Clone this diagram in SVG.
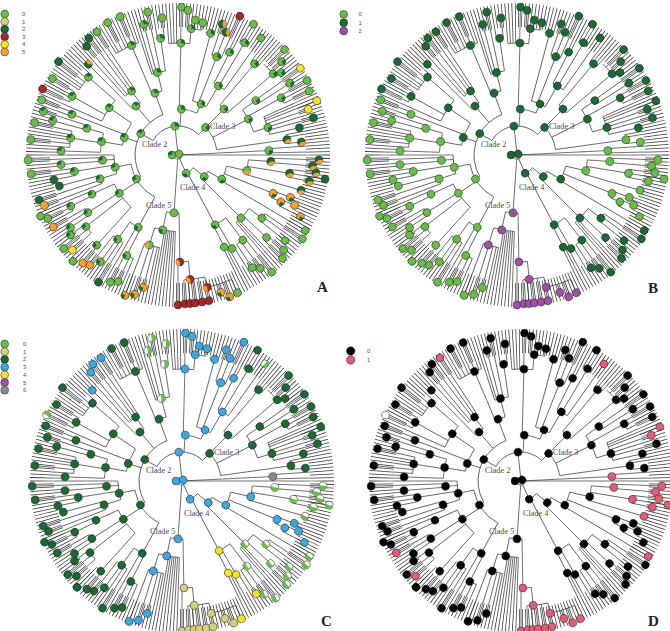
<svg xmlns="http://www.w3.org/2000/svg" xmlns:xlink="http://www.w3.org/1999/xlink" width="670" height="631" viewBox="0 0 670 631">
<style>
.n circle{r:3.9px;stroke:#1a1a1a;stroke-width:.5}
.w circle{r:1.95px;fill:none;stroke-width:3.9}
.k1{fill:var(--k1)}.k2{fill:var(--k2)}.k3{fill:var(--k3)}.k4{fill:var(--k4)}.k5{fill:var(--k5)}.k6{fill:var(--k6)}.k7{fill:var(--k7)}.k8{fill:var(--k8)}.k9{fill:var(--k9)}.k10{fill:var(--k10)}.k11{fill:var(--k11)}.k12{fill:var(--k12)}.k14{fill:var(--k14)}.k15{fill:var(--k15)}.k16{fill:var(--k16)}.k17{fill:var(--k17)}.k18{fill:var(--k18)}.k19{fill:var(--k19)}.k21{fill:var(--k21)}.k22{fill:var(--k22)}.k24{fill:var(--k24)}.k27{fill:var(--k27)}.k29{fill:var(--k29)}.k30{fill:var(--k30)}.k32{fill:var(--k32)}
.w1{stroke:var(--w1);stroke-dasharray:3.1 20}.w2{stroke:var(--w2);stroke-dasharray:4.3 20}.w3{stroke:var(--w3);stroke-dasharray:6.13 20}
#A{--k1:#68bd46;--k2:#68bd46;--k3:#68bd46;--k4:#68bd46;--k5:#1a6a33;--k6:#68bd46;--k7:#1a6a33;--k8:#1a6a33;--k9:#a3272b;--k10:#f7a12c;--k11:#f4e424;--k12:#f7a12c;--k14:#f7a12c;--k15:#68bd46;--k16:#a3272b;--k17:#f7a12c;--k18:#68bd46;--k19:#1a6a33;--k21:#68bd46;--k22:#68bd46;--k24:#68bd46;--k27:#a3272b;--k29:#f4e424;--k30:#f4e424;--k32:#68bd46;--w1:#1a6a33;--w2:#f7a12c;--w3:none}
#B{--k1:#1a6a33;--k2:#68bd46;--k3:#1a6a33;--k4:#1a6a33;--k5:#1a6a33;--k6:#1a6a33;--k7:#68bd46;--k8:#1a6a33;--k9:#1a6a33;--k10:#68bd46;--k11:#68bd46;--k12:#68bd46;--k14:#68bd46;--k15:#a04fa6;--k16:#a04fa6;--k17:#a04fa6;--k18:#a04fa6;--k19:#68bd46;--k21:#68bd46;--k22:#1a6a33;--k24:#1a6a33;--k27:#1a6a33;--k29:#1a6a33;--k30:#1a6a33;--k32:#68bd46;--w1:none;--w2:none;--w3:none}
#C{--k1:#3ba9e1;--k2:#1a6a33;--k3:#1a6a33;--k4:#fff;--k5:#3ba9e1;--k6:#3ba9e1;--k7:#1a6a33;--k8:#1a6a33;--k9:#fff;--k10:#1a6a33;--k11:#1a6a33;--k12:#1a6a33;--k14:#3ba9e1;--k15:#3ba9e1;--k16:#d6d07e;--k17:#d6d07e;--k18:#f4e424;--k19:#fff;--k21:#3ba9e1;--k22:#fff;--k24:#f4e424;--k27:#3ba9e1;--k29:#1a6a33;--k30:#1a6a33;--k32:#8a8a8a;--w1:none;--w2:none;--w3:#68bd46}
#D{--k1:#000;--k2:#000;--k3:#000;--k4:#000;--k5:#000;--k6:#e15c76;--k7:#000;--k8:#000;--k9:#fff;--k10:#e15c76;--k11:#e15c76;--k12:#000;--k14:#000;--k15:#000;--k16:#e15c76;--k17:#e15c76;--k18:#e15c76;--k19:#e15c76;--k21:#000;--k22:#e15c76;--k24:#000;--k27:#000;--k29:#000;--k30:#e15c76;--k32:#e15c76;--w1:none;--w2:none;--w3:none}
.cl{font-family:"Liberation Serif","Times New Roman",serif;font-size:8.2px;fill:#4a4a4a;stroke:none}
.lg{font-family:"Liberation Sans",Arial,sans-serif;font-size:6px;fill:#555}
.pl{font-family:"Liberation Serif","Times New Roman",serif;font-size:15px;font-weight:bold;fill:#222}
.lc circle{stroke:#222;stroke-width:.5}
</style>
<defs>
<g id="T" fill="none" stroke="#383838" stroke-width=".7">
<circle r="140" stroke-width="24" pathLength="270" stroke-dasharray=".23 .77" transform="rotate(-.15)"/>
<circle r="4" pathLength="360" stroke-dasharray="266.8 400" transform="rotate(357.2)"/>
<circle r="20" pathLength="360" stroke-dasharray="26.5 400" transform="rotate(39.5)"/>
<circle r="34" pathLength="360" stroke-dasharray="16.1 400" transform="rotate(28.9)"/>
<circle r="50" pathLength="360" stroke-dasharray="17.8 400" transform="rotate(12.9)"/>
<circle r="70.5" pathLength="360" stroke-dasharray="12 400" transform="rotate(4)"/>
<circle r="93" pathLength="360" stroke-dasharray="2.7 400" transform="rotate(2)"/>
<circle r="113" pathLength="360" stroke-dasharray="4 400" transform="rotate(7.33)"/>
<circle r="102.5" pathLength="360" stroke-dasharray="3.83 400" transform="rotate(20.67)"/>
<circle r="113" pathLength="360" stroke-dasharray="3.33 400" transform="rotate(23.33)"/>
<circle r="89" pathLength="360" stroke-dasharray="12.33 400" transform="rotate(37)"/>
<circle r="105" pathLength="360" stroke-dasharray="4.67 400" transform="rotate(34)"/>
<circle r="121" pathLength="360" stroke-dasharray="2.67 400" transform="rotate(42)"/>
<circle r="79" pathLength="360" stroke-dasharray="10.63 400" transform="rotate(52.7)"/>
<circle r="107" pathLength="360" stroke-dasharray="5.33 400" transform="rotate(51.33)"/>
<circle r="108" pathLength="360" stroke-dasharray="2.67 400" transform="rotate(58.67)"/>
<circle r="103" pathLength="360" stroke-dasharray="1.33 400" transform="rotate(62.67)"/>
<circle r="120" pathLength="360" stroke-dasharray="1.33 400" transform="rotate(20)"/>
<circle r="58" pathLength="360" stroke-dasharray="12.5 400" transform="rotate(89)"/>
<circle r="107" pathLength="360" stroke-dasharray="5.6 400" transform="rotate(84.4)"/>
<circle r="125" pathLength="360" stroke-dasharray="9.73 400" transform="rotate(77.6)"/>
<circle r="135.5" pathLength="360" stroke-dasharray="11.33 400" transform="rotate(66.67)"/>
<circle r="76.5" pathLength="360" stroke-dasharray="15.7 400" transform="rotate(92)"/>
<circle r="94.5" pathLength="360" stroke-dasharray="9.33 400" transform="rotate(101.33)"/>
<circle r="29" pathLength="360" stroke-dasharray="105 400" transform="rotate(210)"/>
<circle r="43" pathLength="360" stroke-dasharray="99.6 400" transform="rotate(150)"/>
<circle r="48" pathLength="360" stroke-dasharray="50.2 400" transform="rotate(118.8)"/>
<circle r="82.5" pathLength="360" stroke-dasharray="8.6 400" transform="rotate(117)"/>
<circle r="112.8" pathLength="360" stroke-dasharray="4.67 400" transform="rotate(113.33)"/>
<circle r="103.6" pathLength="360" stroke-dasharray="6.67 400" transform="rotate(122)"/>
<circle r="70" pathLength="360" stroke-dasharray="23.5 400" transform="rotate(132)"/>
<circle r="121.4" pathLength="360" stroke-dasharray="3.33 400" transform="rotate(131.33)"/>
<circle r="116.6" pathLength="360" stroke-dasharray="5.33 400" transform="rotate(138)"/>
<circle r="107" pathLength="360" stroke-dasharray="4 400" transform="rotate(146)"/>
<circle r="94.5" pathLength="360" stroke-dasharray="2.83 400" transform="rotate(154.5)"/>
<circle r="118.8" pathLength="360" stroke-dasharray="4 400" transform="rotate(152)"/>
<circle r="64" pathLength="360" stroke-dasharray="17 400" transform="rotate(163)"/>
<circle r="81.5" pathLength="360" stroke-dasharray="6 400" transform="rotate(159.33)"/>
<circle r="105" pathLength="360" stroke-dasharray="4 400" transform="rotate(168.67)"/>
<circle r="75.7" pathLength="360" stroke-dasharray="2.67 400" transform="rotate(175.33)"/>
<circle r="56.5" pathLength="360" stroke-dasharray="24.5 400" transform="rotate(190)"/>
<circle r="77.6" pathLength="360" stroke-dasharray="14.33 400" transform="rotate(182)"/>
<circle r="108.6" pathLength="360" stroke-dasharray="8.67 400" transform="rotate(184)"/>
<circle r="95" pathLength="360" stroke-dasharray="2.67 400" transform="rotate(195.33)"/>
<circle r="113.6" pathLength="360" stroke-dasharray="2 400" transform="rotate(200)"/>
<circle r="83.4" pathLength="360" stroke-dasharray="17 400" transform="rotate(204)"/>
<circle r="121" pathLength="360" stroke-dasharray="5.33 400" transform="rotate(206)"/>
<circle r="118.6" pathLength="360" stroke-dasharray="9.33 400" transform="rotate(213.33)"/>
<circle r="64.5" pathLength="360" stroke-dasharray="8.67 400" transform="rotate(225.33)"/>
<circle r="79" pathLength="360" stroke-dasharray="8.67 400" transform="rotate(228)"/>
<circle r="66" pathLength="360" stroke-dasharray="9 400" transform="rotate(247)"/>
<circle r="119" pathLength="360" stroke-dasharray="12 400" transform="rotate(238.67)"/>
<circle r="85" pathLength="360" stroke-dasharray="9.5 400" transform="rotate(252)"/>
<circle r="118" pathLength="360" stroke-dasharray="3.33 400" transform="rotate(260)"/>
<circle r="46" pathLength="360" stroke-dasharray="22.8 400" transform="rotate(271.5)"/>
<circle r="112" pathLength="360" stroke-dasharray="10.67 400" transform="rotate(265.33)"/>
<circle r="127" pathLength="360" stroke-dasharray="6.67 400" transform="rotate(274)"/>
<circle r="56" pathLength="360" stroke-dasharray="15.3 400" transform="rotate(285)"/>
<circle r="126" pathLength="360" stroke-dasharray="4 400" transform="rotate(282.67)"/>
<circle r="105.6" pathLength="360" stroke-dasharray="5.33 400" transform="rotate(288.67)"/>
<circle r="80" pathLength="360" stroke-dasharray="8.67 400" transform="rotate(296.67)"/>
<circle r="130.5" pathLength="360" stroke-dasharray="4 400" transform="rotate(298.67)"/>
<circle r="39" pathLength="360" stroke-dasharray="37 400" transform="rotate(315)"/>
<circle r="65" pathLength="360" stroke-dasharray="9.5 400" transform="rotate(310)"/>
<circle r="119" pathLength="360" stroke-dasharray="4 400" transform="rotate(308)"/>
<circle r="125" pathLength="360" stroke-dasharray="8 400" transform="rotate(313.33)"/>
<circle r="79" pathLength="360" stroke-dasharray="18 400" transform="rotate(325)"/>
<circle r="95" pathLength="360" stroke-dasharray="2.67 400" transform="rotate(324.67)"/>
<circle r="118" pathLength="360" stroke-dasharray="4 400" transform="rotate(330)"/>
<circle r="94" pathLength="360" stroke-dasharray="11.33 400" transform="rotate(336)"/>
<circle r="110" pathLength="360" stroke-dasharray="4.67 400" transform="rotate(349.33)"/>
<circle r="91" pathLength="360" stroke-dasharray="2.67 400" transform="rotate(356)"/>
<path d="M4 0H91" transform="rotate(357.2)"/>
<path d="M4 0H20" transform="rotate(66)"/>
<path d="M4 0H58" transform="rotate(94)"/>
<path d="M4 0H29" transform="rotate(264)"/>
<path d="M4 0H128"/>
<path d="M20 0H34" transform="rotate(39.5)"/>
<path d="M20 0H79" transform="rotate(62)"/>
<path d="M34 0H50" transform="rotate(28.9)"/>
<path d="M34 0H89" transform="rotate(45)"/>
<path d="M50 0H70.5" transform="rotate(12.9)"/>
<path d="M50 0H102.5" transform="rotate(22)"/>
<path d="M50 0H148" transform="rotate(30.67)"/>
<path d="M70.5 0H93" transform="rotate(4)"/>
<path d="M70.5 0H113" transform="rotate(9.33)"/>
<path d="M70.5 0H128" transform="rotate(16)"/>
<path d="M93 0H141" transform="rotate(2)"/>
<path d="M93 0H135" transform="rotate(4.67)"/>
<path d="M113 0H139" transform="rotate(7.33)"/>
<path d="M113 0H149" transform="rotate(9.33)"/>
<path d="M113 0H134" transform="rotate(11.33)"/>
<path d="M102.5 0H120" transform="rotate(20.67)"/>
<path d="M102.5 0H113" transform="rotate(24.5)"/>
<path d="M113 0H127" transform="rotate(23.33)"/>
<path d="M113 0H137" transform="rotate(26.67)"/>
<path d="M89 0H105" transform="rotate(37)"/>
<path d="M89 0H121" transform="rotate(43)"/>
<path d="M89 0H128" transform="rotate(46.67)"/>
<path d="M89 0H128" transform="rotate(48)"/>
<path d="M89 0H128" transform="rotate(49.33)"/>
<path d="M105 0H150" transform="rotate(34)"/>
<path d="M105 0H137" transform="rotate(38.67)"/>
<path d="M105 0H128" transform="rotate(36)"/>
<path d="M121 0H142" transform="rotate(42)"/>
<path d="M121 0H147" transform="rotate(44.67)"/>
<path d="M79 0H107" transform="rotate(52.7)"/>
<path d="M79 0H108" transform="rotate(60)"/>
<path d="M79 0H103" transform="rotate(63.33)"/>
<path d="M107 0H150" transform="rotate(51.33)"/>
<path d="M107 0H140" transform="rotate(54)"/>
<path d="M107 0H135" transform="rotate(56.67)"/>
<path d="M108 0H128" transform="rotate(58.67)"/>
<path d="M108 0H128" transform="rotate(61.33)"/>
<path d="M103 0H128" transform="rotate(62.67)"/>
<path d="M103 0H128" transform="rotate(64)"/>
<path d="M120 0H128" transform="rotate(20)"/>
<path d="M120 0H128" transform="rotate(21.33)"/>
<path d="M58 0H107" transform="rotate(89)"/>
<path d="M58 0H76.5" transform="rotate(101.5)"/>
<path d="M107 0H125" transform="rotate(84.4)"/>
<path d="M107 0H150" transform="rotate(90)"/>
<path d="M125 0H135.5" transform="rotate(77.6)"/>
<path d="M125 0H149" transform="rotate(80.67)"/>
<path d="M125 0H149" transform="rotate(83.33)"/>
<path d="M125 0H149" transform="rotate(85.33)"/>
<path d="M125 0H149" transform="rotate(87.33)"/>
<path d="M135.5 0H150" transform="rotate(66.67)"/>
<path d="M135.5 0H151" transform="rotate(70)"/>
<path d="M135.5 0H144" transform="rotate(72.67)"/>
<path d="M135.5 0H149" transform="rotate(78)"/>
<path d="M76.5 0H94.5" transform="rotate(107.7)"/>
<path d="M76.5 0H128" transform="rotate(92)"/>
<path d="M76.5 0H128" transform="rotate(93.33)"/>
<path d="M76.5 0H128" transform="rotate(94.67)"/>
<path d="M76.5 0H128" transform="rotate(96)"/>
<path d="M76.5 0H128" transform="rotate(97.33)"/>
<path d="M76.5 0H128" transform="rotate(98.67)"/>
<path d="M76.5 0H128" transform="rotate(100)"/>
<path d="M94.5 0H137" transform="rotate(104.67)"/>
<path d="M94.5 0H146" transform="rotate(107.33)"/>
<path d="M94.5 0H150" transform="rotate(110.67)"/>
<path d="M94.5 0H128" transform="rotate(101.33)"/>
<path d="M94.5 0H128" transform="rotate(102.67)"/>
<path d="M29 0H43" transform="rotate(210)"/>
<path d="M29 0H46" transform="rotate(274)"/>
<path d="M29 0H39" transform="rotate(315)"/>
<path d="M43 0H48" transform="rotate(150)"/>
<path d="M43 0H56.5" transform="rotate(198)"/>
<path d="M43 0H64.5" transform="rotate(229.4)"/>
<path d="M43 0H66" transform="rotate(249.6)"/>
<path d="M48 0H82.5" transform="rotate(118.8)"/>
<path d="M48 0H70" transform="rotate(146.9)"/>
<path d="M48 0H64" transform="rotate(169)"/>
<path d="M82.5 0H112.8" transform="rotate(117)"/>
<path d="M82.5 0H103.6" transform="rotate(125.6)"/>
<path d="M82.5 0H128" transform="rotate(120)"/>
<path d="M112.8 0H140" transform="rotate(115.33)"/>
<path d="M112.8 0H144" transform="rotate(118)"/>
<path d="M112.8 0H128" transform="rotate(113.33)"/>
<path d="M103.6 0H150" transform="rotate(122)"/>
<path d="M103.6 0H132" transform="rotate(126)"/>
<path d="M103.6 0H141" transform="rotate(128.67)"/>
<path d="M103.6 0H128" transform="rotate(124)"/>
<path d="M70 0H121.4" transform="rotate(132)"/>
<path d="M70 0H116.6" transform="rotate(142.1)"/>
<path d="M70 0H107" transform="rotate(147.4)"/>
<path d="M70 0H94.5" transform="rotate(155.5)"/>
<path d="M121.4 0H144" transform="rotate(131.33)"/>
<path d="M121.4 0H149.4" transform="rotate(134.67)"/>
<path d="M116.6 0H142" transform="rotate(138)"/>
<path d="M116.6 0H147.6" transform="rotate(140.67)"/>
<path d="M116.6 0H134" transform="rotate(143.33)"/>
<path d="M107 0H129.7" transform="rotate(146)"/>
<path d="M107 0H144" transform="rotate(150)"/>
<path d="M107 0H128" transform="rotate(148)"/>
<path d="M94.5 0H118.8" transform="rotate(154.5)"/>
<path d="M94.5 0H128" transform="rotate(157.33)"/>
<path d="M118.8 0H144.8" transform="rotate(154)"/>
<path d="M118.8 0H150.5" transform="rotate(156)"/>
<path d="M118.8 0H128" transform="rotate(152)"/>
<path d="M64 0H81.5" transform="rotate(163)"/>
<path d="M64 0H105" transform="rotate(171)"/>
<path d="M64 0H75.7" transform="rotate(176)"/>
<path d="M64 0H128" transform="rotate(180)"/>
<path d="M81.5 0H142.7" transform="rotate(159.33)"/>
<path d="M81.5 0H146" transform="rotate(162)"/>
<path d="M81.5 0H122.7" transform="rotate(165.33)"/>
<path d="M105 0H126.5" transform="rotate(168.67)"/>
<path d="M105 0H148" transform="rotate(172.67)"/>
<path d="M105 0H128" transform="rotate(170.67)"/>
<path d="M75.7 0H117.4" transform="rotate(175.33)"/>
<path d="M75.7 0H150" transform="rotate(178)"/>
<path d="M117.4 0H128" transform="rotate(174.67)"/>
<path d="M117.4 0H128" transform="rotate(176)"/>
<path d="M56.5 0H77.6" transform="rotate(190)"/>
<path d="M56.5 0H113.6" transform="rotate(201)"/>
<path d="M56.5 0H83.4" transform="rotate(214.5)"/>
<path d="M77.6 0H117" transform="rotate(182)"/>
<path d="M77.6 0H108.6" transform="rotate(189)"/>
<path d="M77.6 0H95" transform="rotate(196.33)"/>
<path d="M117 0H128" transform="rotate(181.33)"/>
<path d="M117 0H128" transform="rotate(182.67)"/>
<path d="M108.6 0H148" transform="rotate(186)"/>
<path d="M108.6 0H147" transform="rotate(192.67)"/>
<path d="M108.6 0H128" transform="rotate(184)"/>
<path d="M108.6 0H128" transform="rotate(188)"/>
<path d="M108.6 0H128" transform="rotate(189.33)"/>
<path d="M108.6 0H128" transform="rotate(190.67)"/>
<path d="M95 0H130" transform="rotate(195.33)"/>
<path d="M95 0H141.6" transform="rotate(198)"/>
<path d="M113.6 0H147" transform="rotate(202)"/>
<path d="M113.6 0H128" transform="rotate(200)"/>
<path d="M83.4 0H121" transform="rotate(209)"/>
<path d="M83.4 0H118.6" transform="rotate(221)"/>
<path d="M83.4 0H128" transform="rotate(204)"/>
<path d="M121 0H150.7" transform="rotate(206)"/>
<path d="M121 0H147" transform="rotate(211.33)"/>
<path d="M121 0H128" transform="rotate(208)"/>
<path d="M121 0H128" transform="rotate(209.33)"/>
<path d="M118.6 0H151.6" transform="rotate(218)"/>
<path d="M118.6 0H128" transform="rotate(213.33)"/>
<path d="M118.6 0H128" transform="rotate(214.67)"/>
<path d="M118.6 0H128" transform="rotate(216)"/>
<path d="M118.6 0H128" transform="rotate(220)"/>
<path d="M118.6 0H128" transform="rotate(222.67)"/>
<path d="M64.5 0H127.5" transform="rotate(225.33)"/>
<path d="M64.5 0H79" transform="rotate(234)"/>
<path d="M79 0H142" transform="rotate(230)"/>
<path d="M79 0H147" transform="rotate(232.67)"/>
<path d="M79 0H147.5" transform="rotate(236.67)"/>
<path d="M79 0H128" transform="rotate(228)"/>
<path d="M79 0H128" transform="rotate(234.67)"/>
<path d="M66 0H119" transform="rotate(247)"/>
<path d="M66 0H85" transform="rotate(256)"/>
<path d="M119 0H150" transform="rotate(242)"/>
<path d="M119 0H150" transform="rotate(247.33)"/>
<path d="M119 0H128" transform="rotate(238.67)"/>
<path d="M119 0H128" transform="rotate(240)"/>
<path d="M119 0H128" transform="rotate(244)"/>
<path d="M119 0H128" transform="rotate(245.33)"/>
<path d="M119 0H128" transform="rotate(249.33)"/>
<path d="M119 0H128" transform="rotate(250.67)"/>
<path d="M85 0H135" transform="rotate(255.33)"/>
<path d="M85 0H146" transform="rotate(258)"/>
<path d="M85 0H118" transform="rotate(261.5)"/>
<path d="M85 0H128" transform="rotate(252)"/>
<path d="M85 0H128" transform="rotate(253.33)"/>
<path d="M118 0H138" transform="rotate(263.33)"/>
<path d="M118 0H128" transform="rotate(260)"/>
<path d="M46 0H112" transform="rotate(271.5)"/>
<path d="M46 0H56" transform="rotate(294.3)"/>
<path d="M112 0H148" transform="rotate(271.33)"/>
<path d="M112 0H127" transform="rotate(276)"/>
<path d="M112 0H128" transform="rotate(265.33)"/>
<path d="M112 0H128" transform="rotate(266.67)"/>
<path d="M112 0H128" transform="rotate(268)"/>
<path d="M112 0H128" transform="rotate(269.33)"/>
<path d="M127 0H145" transform="rotate(274)"/>
<path d="M127 0H136" transform="rotate(277.33)"/>
<path d="M127 0H134.6" transform="rotate(280.67)"/>
<path d="M56 0H126" transform="rotate(285)"/>
<path d="M56 0H105.6" transform="rotate(291.5)"/>
<path d="M56 0H80" transform="rotate(300.3)"/>
<path d="M105.6 0H138.3" transform="rotate(288.67)"/>
<path d="M105.6 0H131.8" transform="rotate(291.33)"/>
<path d="M105.6 0H152" transform="rotate(294)"/>
<path d="M80 0H115" transform="rotate(296.67)"/>
<path d="M80 0H130.5" transform="rotate(300.67)"/>
<path d="M80 0H143.5" transform="rotate(305.33)"/>
<path d="M115 0H128" transform="rotate(296)"/>
<path d="M115 0H128" transform="rotate(297.33)"/>
<path d="M39 0H65" transform="rotate(315)"/>
<path d="M39 0H79" transform="rotate(333)"/>
<path d="M39 0H110" transform="rotate(352)"/>
<path d="M65 0H119" transform="rotate(310)"/>
<path d="M65 0H125" transform="rotate(319.5)"/>
<path d="M119 0H128" transform="rotate(308)"/>
<path d="M119 0H128" transform="rotate(309.33)"/>
<path d="M119 0H128" transform="rotate(310.67)"/>
<path d="M119 0H128" transform="rotate(312)"/>
<path d="M125 0H150" transform="rotate(315.33)"/>
<path d="M125 0H139.6" transform="rotate(318)"/>
<path d="M125 0H132" transform="rotate(321.33)"/>
<path d="M79 0H95" transform="rotate(325)"/>
<path d="M79 0H118" transform="rotate(331)"/>
<path d="M79 0H94" transform="rotate(343)"/>
<path d="M95 0H150" transform="rotate(324.67)"/>
<path d="M95 0H133" transform="rotate(327.33)"/>
<path d="M118 0H149" transform="rotate(330)"/>
<path d="M118 0H146" transform="rotate(334)"/>
<path d="M118 0H128" transform="rotate(332)"/>
<path d="M94 0H149" transform="rotate(338.67)"/>
<path d="M94 0H138" transform="rotate(340.67)"/>
<path d="M94 0H140.5" transform="rotate(344.67)"/>
<path d="M94 0H124.4" transform="rotate(347.33)"/>
<path d="M94 0H128" transform="rotate(336)"/>
<path d="M94 0H128" transform="rotate(337.33)"/>
<path d="M94 0H128" transform="rotate(342.67)"/>
<path d="M110 0H124" transform="rotate(354)"/>
<path d="M110 0H128" transform="rotate(349.33)"/>
<path d="M110 0H128" transform="rotate(350.67)"/>
<path d="M91 0H128" transform="rotate(356)"/>
<path d="M91 0H128" transform="rotate(358.67)"/>
<text class="cl" x="-36" y="-8">Clade 2</text>
<text class="cl" x="32" y="-26">Clade 3</text>
<text class="cl" x="2" y="35">Clade 4</text>
<text class="cl" x="-32" y="53">Clade 5</text>
</g>
<g id="N" class="n">
<circle class="k1" cx="6" transform="rotate(180)"/>
<circle class="k1" cx="1.5" transform="rotate(315)"/>
<circle class="k1" cx="29" transform="rotate(264)"/>
<circle class="k32" cx="91" transform="rotate(357.2)"/>
<circle class="k1" cx="20" transform="rotate(66)"/>
<circle class="k1" cx="34" transform="rotate(39.5)"/>
<circle class="k1" cx="50" transform="rotate(28.9)"/>
<circle class="k21" cx="70.5" transform="rotate(12.9)"/>
<circle class="k19" cx="93" transform="rotate(4)"/>
<circle class="k19" cx="141" transform="rotate(2)"/>
<circle class="k19" cx="135" transform="rotate(4.67)"/>
<circle class="k19" cx="139" transform="rotate(7.33)"/>
<circle class="k19" cx="149" transform="rotate(9.33)"/>
<circle class="k19" cx="113" transform="rotate(9.33)"/>
<circle class="k19" cx="134" transform="rotate(11.33)"/>
<circle class="k19" cx="128" transform="rotate(16)"/>
<circle class="k14" cx="102.5" transform="rotate(22)"/>
<circle class="k14" cx="120" transform="rotate(20.67)"/>
<circle class="k14" cx="113" transform="rotate(24.5)"/>
<circle class="k14" cx="127" transform="rotate(23.33)"/>
<circle class="k14" cx="137" transform="rotate(26.67)"/>
<circle class="k22" cx="148" transform="rotate(30.67)"/>
<circle class="k4" cx="89" transform="rotate(45)"/>
<circle class="k4" cx="105" transform="rotate(37)"/>
<circle class="k4" cx="150" transform="rotate(34)"/>
<circle class="k4" cx="137" transform="rotate(38.67)"/>
<circle class="k4" cx="121" transform="rotate(43)"/>
<circle class="k4" cx="142" transform="rotate(42)"/>
<circle class="k4" cx="147" transform="rotate(44.67)"/>
<circle class="k24" cx="79" transform="rotate(62)"/>
<circle class="k4" cx="107" transform="rotate(52.7)"/>
<circle class="k4" cx="150" transform="rotate(51.33)"/>
<circle class="k4" cx="140" transform="rotate(54)"/>
<circle class="k24" cx="135" transform="rotate(56.67)"/>
<circle class="k24" cx="108" transform="rotate(60)"/>
<circle class="k24" cx="103" transform="rotate(63.33)"/>
<circle class="k15" cx="58" transform="rotate(94)"/>
<circle class="k16" cx="107" transform="rotate(89)"/>
<circle class="k16" cx="150" transform="rotate(90)"/>
<circle class="k16" cx="125" transform="rotate(84.4)"/>
<circle class="k16" cx="149" transform="rotate(87.33)"/>
<circle class="k16" cx="149" transform="rotate(85.33)"/>
<circle class="k16" cx="149" transform="rotate(83.33)"/>
<circle class="k16" cx="149" transform="rotate(80.67)"/>
<circle class="k16" cx="135.5" transform="rotate(77.6)"/>
<circle class="k16" cx="149" transform="rotate(78)"/>
<circle class="k17" cx="144" transform="rotate(72.67)"/>
<circle class="k17" cx="151" transform="rotate(70)"/>
<circle class="k18" cx="150" transform="rotate(66.67)"/>
<circle class="k15" cx="76.5" transform="rotate(101.5)"/>
<circle class="k15" cx="94.5" transform="rotate(107.7)"/>
<circle class="k14" cx="137" transform="rotate(104.67)"/>
<circle class="k14" cx="146" transform="rotate(107.33)"/>
<circle class="k14" cx="150" transform="rotate(110.67)"/>
<circle class="k3" cx="43" transform="rotate(210)"/>
<circle class="k2" cx="48" transform="rotate(150)"/>
<circle class="k2" cx="82.5" transform="rotate(118.8)"/>
<circle class="k2" cx="112.8" transform="rotate(117)"/>
<circle class="k2" cx="140" transform="rotate(115.33)"/>
<circle class="k2" cx="144" transform="rotate(118)"/>
<circle class="k2" cx="103.6" transform="rotate(125.6)"/>
<circle class="k7" cx="150" transform="rotate(122)"/>
<circle class="k2" cx="132" transform="rotate(126)"/>
<circle class="k12" cx="141" transform="rotate(128.67)"/>
<circle class="k12" cx="144" transform="rotate(131.33)"/>
<circle class="k2" cx="121.4" transform="rotate(132)"/>
<circle class="k2" cx="149.4" transform="rotate(134.67)"/>
<circle class="k2" cx="70" transform="rotate(146.9)"/>
<circle class="k2" cx="116.6" transform="rotate(142.1)"/>
<circle class="k11" cx="142" transform="rotate(138)"/>
<circle class="k2" cx="147.6" transform="rotate(140.67)"/>
<circle class="k2" cx="134" transform="rotate(143.33)"/>
<circle class="k2" cx="107" transform="rotate(147.4)"/>
<circle class="k2" cx="129.7" transform="rotate(146)"/>
<circle class="k10" cx="144" transform="rotate(150)"/>
<circle class="k2" cx="94.5" transform="rotate(155.5)"/>
<circle class="k2" cx="118.8" transform="rotate(154.5)"/>
<circle class="k2" cx="144.8" transform="rotate(154)"/>
<circle class="k2" cx="150.5" transform="rotate(156)"/>
<circle class="k2" cx="64" transform="rotate(169)"/>
<circle class="k2" cx="81.5" transform="rotate(163)"/>
<circle class="k12" cx="142.7" transform="rotate(159.33)"/>
<circle class="k7" cx="146" transform="rotate(162)"/>
<circle class="k7" cx="122.7" transform="rotate(165.33)"/>
<circle class="k2" cx="105" transform="rotate(171)"/>
<circle class="k7" cx="126.5" transform="rotate(168.67)"/>
<circle class="k2" cx="148" transform="rotate(172.67)"/>
<circle class="k2" cx="75.7" transform="rotate(176)"/>
<circle class="k2" cx="117.4" transform="rotate(175.33)"/>
<circle class="k2" cx="150" transform="rotate(178)"/>
<circle class="k3" cx="56.5" transform="rotate(198)"/>
<circle class="k2" cx="77.6" transform="rotate(190)"/>
<circle class="k2" cx="117" transform="rotate(182)"/>
<circle class="k2" cx="108.6" transform="rotate(189)"/>
<circle class="k2" cx="148" transform="rotate(186)"/>
<circle class="k2" cx="147" transform="rotate(192.67)"/>
<circle class="k2" cx="95" transform="rotate(196.33)"/>
<circle class="k2" cx="130" transform="rotate(195.33)"/>
<circle class="k2" cx="141.6" transform="rotate(198)"/>
<circle class="k2" cx="113.6" transform="rotate(201)"/>
<circle class="k2" cx="147" transform="rotate(202)"/>
<circle class="k3" cx="83.4" transform="rotate(214.5)"/>
<circle class="k3" cx="121" transform="rotate(209)"/>
<circle class="k9" cx="150.7" transform="rotate(206)"/>
<circle class="k3" cx="147" transform="rotate(211.33)"/>
<circle class="k3" cx="118.6" transform="rotate(221)"/>
<circle class="k8" cx="151.6" transform="rotate(218)"/>
<circle class="k3" cx="64.5" transform="rotate(229.4)"/>
<circle class="k5" cx="127.5" transform="rotate(225.33)"/>
<circle class="k3" cx="79" transform="rotate(234)"/>
<circle class="k5" cx="142" transform="rotate(230)"/>
<circle class="k5" cx="147" transform="rotate(232.67)"/>
<circle class="k6" cx="147.5" transform="rotate(236.67)"/>
<circle class="k3" cx="66" transform="rotate(249.6)"/>
<circle class="k3" cx="119" transform="rotate(247)"/>
<circle class="k3" cx="150" transform="rotate(242)"/>
<circle class="k3" cx="150" transform="rotate(247.33)"/>
<circle class="k4" cx="85" transform="rotate(256)"/>
<circle class="k4" cx="135" transform="rotate(255.33)"/>
<circle class="k4" cx="146" transform="rotate(258)"/>
<circle class="k4" cx="118" transform="rotate(261.5)"/>
<circle class="k4" cx="138" transform="rotate(263.33)"/>
<circle class="k1" cx="46" transform="rotate(274)"/>
<circle class="k1" cx="112" transform="rotate(271.5)"/>
<circle class="k1" cx="148" transform="rotate(271.33)"/>
<circle class="k1" cx="127" transform="rotate(276)"/>
<circle class="k1" cx="145" transform="rotate(274)"/>
<circle class="k1" cx="136" transform="rotate(277.33)"/>
<circle class="k1" cx="134.6" transform="rotate(280.67)"/>
<circle class="k1" cx="56" transform="rotate(294.3)"/>
<circle class="k1" cx="126" transform="rotate(285)"/>
<circle class="k1" cx="105.6" transform="rotate(291.5)"/>
<circle class="k5" cx="138.3" transform="rotate(288.67)"/>
<circle class="k5" cx="131.8" transform="rotate(291.33)"/>
<circle class="k27" cx="152" transform="rotate(294)"/>
<circle class="k1" cx="80" transform="rotate(300.3)"/>
<circle class="k1" cx="115" transform="rotate(296.67)"/>
<circle class="k3" cx="130.5" transform="rotate(300.67)"/>
<circle class="k3" cx="151" transform="rotate(300)"/>
<circle class="k22" cx="143.5" transform="rotate(305.33)"/>
<circle class="k3" cx="39" transform="rotate(315)"/>
<circle class="k3" cx="65" transform="rotate(315)"/>
<circle class="k3" cx="119" transform="rotate(310)"/>
<circle class="k3" cx="125" transform="rotate(319.5)"/>
<circle class="k3" cx="150" transform="rotate(315.33)"/>
<circle class="k3" cx="139.6" transform="rotate(318)"/>
<circle class="k3" cx="132" transform="rotate(321.33)"/>
<circle class="k3" cx="79" transform="rotate(333)"/>
<circle class="k3" cx="95" transform="rotate(325)"/>
<circle class="k29" cx="150" transform="rotate(324.67)"/>
<circle class="k3" cx="133" transform="rotate(327.33)"/>
<circle class="k3" cx="118" transform="rotate(331)"/>
<circle class="k3" cx="149" transform="rotate(330)"/>
<circle class="k3" cx="146" transform="rotate(334)"/>
<circle class="k3" cx="94" transform="rotate(343)"/>
<circle class="k30" cx="149" transform="rotate(338.67)"/>
<circle class="k30" cx="138" transform="rotate(340.67)"/>
<circle class="k8" cx="140.5" transform="rotate(344.67)"/>
<circle class="k8" cx="124.4" transform="rotate(347.33)"/>
<circle class="k7" cx="110" transform="rotate(352)"/>
<circle class="k7" cx="124" transform="rotate(354)"/>
</g>
<g id="W" class="w">
<circle class="w1" cx="6" transform="rotate(180)"/>
<circle class="w1" cx="29" transform="rotate(264)"/>
<circle class="w1" cx="20" transform="rotate(66)"/>
<circle class="w1" cx="34" transform="rotate(39.5)"/>
<circle class="w1" cx="50" transform="rotate(28.9)"/>
<circle class="w1" cx="79" transform="rotate(62)"/>
<circle class="w1" cx="43" transform="rotate(210)"/>
<circle class="w1" cx="48" transform="rotate(150)"/>
<circle class="w1" cx="82.5" transform="rotate(118.8)"/>
<circle class="w1" cx="112.8" transform="rotate(117)"/>
<circle class="w1" cx="103.6" transform="rotate(125.6)"/>
<circle class="w1" cx="132" transform="rotate(126)"/>
<circle class="w1" cx="121.4" transform="rotate(132)"/>
<circle class="w1" cx="70" transform="rotate(146.9)"/>
<circle class="w1" cx="116.6" transform="rotate(142.1)"/>
<circle class="w1" cx="134" transform="rotate(143.33)"/>
<circle class="w1" cx="107" transform="rotate(147.4)"/>
<circle class="w1" cx="129.7" transform="rotate(146)"/>
<circle class="w1" cx="94.5" transform="rotate(155.5)"/>
<circle class="w1" cx="118.8" transform="rotate(154.5)"/>
<circle class="w1" cx="64" transform="rotate(169)"/>
<circle class="w1" cx="81.5" transform="rotate(163)"/>
<circle class="w1" cx="105" transform="rotate(171)"/>
<circle class="w1" cx="75.7" transform="rotate(176)"/>
<circle class="w1" cx="117.4" transform="rotate(175.33)"/>
<circle class="w1" cx="56.5" transform="rotate(198)"/>
<circle class="w1" cx="77.6" transform="rotate(190)"/>
<circle class="w1" cx="117" transform="rotate(182)"/>
<circle class="w1" cx="108.6" transform="rotate(189)"/>
<circle class="w1" cx="95" transform="rotate(196.33)"/>
<circle class="w1" cx="130" transform="rotate(195.33)"/>
<circle class="w1" cx="141.6" transform="rotate(198)"/>
<circle class="w1" cx="113.6" transform="rotate(201)"/>
<circle class="w1" cx="83.4" transform="rotate(214.5)"/>
<circle class="w1" cx="121" transform="rotate(209)"/>
<circle class="w1" cx="118.6" transform="rotate(221)"/>
<circle class="w1" cx="64.5" transform="rotate(229.4)"/>
<circle class="w1" cx="79" transform="rotate(234)"/>
<circle class="w1" cx="66" transform="rotate(249.6)"/>
<circle class="w1" cx="119" transform="rotate(247)"/>
<circle class="w1" cx="46" transform="rotate(274)"/>
<circle class="w1" cx="112" transform="rotate(271.5)"/>
<circle class="w1" cx="127" transform="rotate(276)"/>
<circle class="w1" cx="56" transform="rotate(294.3)"/>
<circle class="w1" cx="126" transform="rotate(285)"/>
<circle class="w1" cx="105.6" transform="rotate(291.5)"/>
<circle class="w1" cx="80" transform="rotate(300.3)"/>
<circle class="w1" cx="115" transform="rotate(296.67)"/>
<circle class="w1" cx="130.5" transform="rotate(300.67)"/>
<circle class="w1" cx="39" transform="rotate(315)"/>
<circle class="w1" cx="65" transform="rotate(315)"/>
<circle class="w1" cx="119" transform="rotate(310)"/>
<circle class="w1" cx="125" transform="rotate(319.5)"/>
<circle class="w1" cx="139.6" transform="rotate(318)"/>
<circle class="w1" cx="132" transform="rotate(321.33)"/>
<circle class="w1" cx="79" transform="rotate(333)"/>
<circle class="w1" cx="95" transform="rotate(325)"/>
<circle class="w1" cx="133" transform="rotate(327.33)"/>
<circle class="w1" cx="118" transform="rotate(331)"/>
<circle class="w1" cx="94" transform="rotate(343)"/>
<circle class="w1" cx="91" transform="rotate(357.2)"/>
<circle class="w1" cx="76.5" transform="rotate(101.5)"/>
<circle class="w1" cx="102.5" transform="rotate(22)"/>
<circle class="w1" cx="120" transform="rotate(20.67)"/>
<circle class="w1" cx="113" transform="rotate(24.5)"/>
<circle class="w1" cx="137" transform="rotate(26.67)"/>
<circle class="w1" cx="137" transform="rotate(104.67)"/>
<circle class="w1" cx="146" transform="rotate(107.33)"/>
<circle class="w1" cx="150" transform="rotate(110.67)"/>
<circle class="w1" cx="144" transform="rotate(72.67)"/>
<circle class="w1" cx="151" transform="rotate(70)"/>
<circle class="w1" cx="85" transform="rotate(256)"/>
<circle class="w1" cx="135" transform="rotate(255.33)"/>
<circle class="w1" cx="118" transform="rotate(261.5)"/>
<circle class="w2" cx="70.5" transform="rotate(12.9)"/>
<circle class="w2" cx="93" transform="rotate(4)"/>
<circle class="w2" cx="141" transform="rotate(2)"/>
<circle class="w2" cx="135" transform="rotate(4.67)"/>
<circle class="w2" cx="139" transform="rotate(7.33)"/>
<circle class="w2" cx="113" transform="rotate(9.33)"/>
<circle class="w2" cx="134" transform="rotate(11.33)"/>
<circle class="w2" cx="128" transform="rotate(16)"/>
<circle class="w2" cx="127.5" transform="rotate(225.33)"/>
<circle class="w2" cx="138.3" transform="rotate(288.67)"/>
<circle class="w2" cx="131.8" transform="rotate(291.33)"/>
<circle class="w2" cx="110" transform="rotate(352)"/>
<circle class="w2" cx="124" transform="rotate(354)"/>
<circle class="w2" cx="107" transform="rotate(89)"/>
<circle class="w2" cx="125" transform="rotate(84.4)"/>
<circle class="w2" cx="135.5" transform="rotate(77.6)"/>
<circle class="w2" cx="142.7" transform="rotate(159.33)"/>
<circle class="w2" cx="94.5" transform="rotate(107.7)"/>
<circle class="w3" cx="89" transform="rotate(45)"/>
<circle class="w3" cx="105" transform="rotate(37)"/>
<circle class="w3" cx="137" transform="rotate(38.67)"/>
<circle class="w3" cx="121" transform="rotate(43)"/>
<circle class="w3" cx="107" transform="rotate(52.7)"/>
<circle class="w3" cx="140" transform="rotate(54)"/>
<circle class="w3" cx="150" transform="rotate(34)"/>
<circle class="w3" cx="142" transform="rotate(42)"/>
<circle class="w3" cx="147" transform="rotate(44.67)"/>
<circle class="w3" cx="150" transform="rotate(51.33)"/>
<circle class="w3" cx="85" transform="rotate(256)"/>
<circle class="w3" cx="135" transform="rotate(255.33)"/>
<circle class="w3" cx="146" transform="rotate(258)"/>
<circle class="w3" cx="118" transform="rotate(261.5)"/>
<circle class="w3" cx="138" transform="rotate(263.33)"/>
<circle class="w3" cx="93" transform="rotate(4)"/>
<circle class="w3" cx="141" transform="rotate(2)"/>
<circle class="w3" cx="135" transform="rotate(4.67)"/>
<circle class="w3" cx="139" transform="rotate(7.33)"/>
<circle class="w3" cx="149" transform="rotate(9.33)"/>
<circle class="w3" cx="113" transform="rotate(9.33)"/>
<circle class="w3" cx="134" transform="rotate(11.33)"/>
<circle class="w3" cx="128" transform="rotate(16)"/>
<circle class="w3" cx="148" transform="rotate(30.67)"/>
<circle class="w3" cx="143.5" transform="rotate(305.33)"/>
<circle class="w3" cx="150.7" transform="rotate(206)"/>
</g>
</defs>
<g id="A" transform="translate(178 155)"><use href="#T"/><use href="#N"/><use href="#W"/></g>
<g id="B" transform="translate(517 155)"><use href="#T"/><use href="#N"/><use href="#W"/></g>
<g id="C" transform="translate(182 481)"><use href="#T"/><use href="#N"/><use href="#W"/></g>
<g id="D" transform="translate(521 481)"><use href="#T"/><use href="#N"/><use href="#W"/></g>
<g id="legendA" class="lc">
<circle cx="4.7" cy="14" r="3.9" fill="#68bd46"/><circle cx="4.7" cy="21.6" r="3.9" fill="#d6d07e"/><circle cx="4.7" cy="29.2" r="3.9" fill="#1a6a33"/><circle cx="4.7" cy="36.8" r="3.9" fill="#a3272b"/><circle cx="4.7" cy="44.4" r="3.9" fill="#f4e424"/><circle cx="4.7" cy="52" r="3.9" fill="#f7a12c"/>
<text class="lg" x="22" y="16">0</text><text class="lg" x="22" y="23.6">1</text><text class="lg" x="22" y="31.2">2</text><text class="lg" x="22" y="38.8">3</text><text class="lg" x="22" y="46.4">4</text><text class="lg" x="22" y="54">5</text>
</g>
<g id="legendB" class="lc">
<circle cx="343.7" cy="14.3" r="3.9" fill="#68bd46"/><circle cx="343.7" cy="22.7" r="3.9" fill="#1a6a33"/><circle cx="343.7" cy="31" r="3.9" fill="#a04fa6"/>
<text class="lg" x="358.5" y="16.3">0</text><text class="lg" x="358.5" y="24.7">1</text><text class="lg" x="358.5" y="33">2</text>
</g>
<g id="legendC" class="lc">
<circle cx="4.7" cy="344" r="3.9" fill="#68bd46"/><circle cx="4.7" cy="351.7" r="3.9" fill="#d6d07e"/><circle cx="4.7" cy="359.4" r="3.9" fill="#1a6a33"/><circle cx="4.7" cy="367.1" r="3.9" fill="#3ba9e1"/><circle cx="4.7" cy="374.8" r="3.9" fill="#f4e424"/><circle cx="4.7" cy="382.5" r="3.9" fill="#a04fa6"/><circle cx="4.7" cy="390.2" r="3.9" fill="#8a8a8a"/>
<text class="lg" x="23" y="346">0</text><text class="lg" x="23" y="353.7">1</text><text class="lg" x="23" y="361.4">2</text><text class="lg" x="23" y="369.1">3</text><text class="lg" x="23" y="376.8">4</text><text class="lg" x="23" y="384.5">5</text><text class="lg" x="23" y="392.2">6</text>
</g>
<g id="legendD" class="lc">
<circle cx="350.7" cy="351" r="4.2" fill="#000"/><circle cx="350.7" cy="360" r="4.2" fill="#e15c76"/>
<text class="lg" x="367" y="353">0</text><text class="lg" x="367" y="362">1</text>
</g>
<text class="pl" x="317" y="292">A</text>
<text class="pl" x="648" y="293">B</text>
<text class="pl" x="321" y="626">C</text>
<text class="pl" x="648" y="626">D</text>
</svg>
